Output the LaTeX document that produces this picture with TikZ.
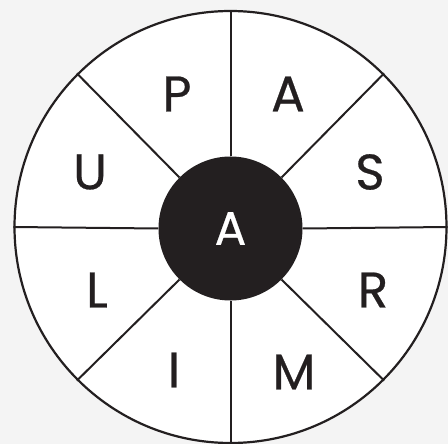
\documentclass[tikz,border=0pt]{standalone}
\usepackage{fontspec}
\setmainfont{Poppins}
\newfontfamily\letterfont{Poppins}[FakeBold=0.5]
\usepackage{tikz}
\usetikzlibrary{positioning}

\definecolor{ink}{HTML}{231F20}
\definecolor{paper}{HTML}{F4F4F4}

\begin{document}
\begin{tikzpicture}[x=1pt,y=-1pt]
\useasboundingbox[fill=paper] (0,0) rectangle (448,444);
\node[draw=ink,line width=2.2pt,circle,fill=white,minimum size=432pt,inner sep=0pt] (rim) at (230.5,227) {};
\node[circle,fill=ink,minimum size=144pt,inner sep=0pt] (hub) at (230.5,228.5) {};
% spokes
\draw[ink,line width=2pt] (hub.90) -- (rim.90);
\draw[ink,line width=2pt] (hub.45) -- (rim.45);
\draw[ink,line width=2pt] (hub.0) -- (rim.0);
\draw[ink,line width=2pt] (hub.-45) -- (rim.-45);
\draw[ink,line width=2pt] (hub.-90) -- (rim.-90);
\draw[ink,line width=2pt] (hub.-135) -- (rim.-135);
\draw[ink,line width=2pt] (hub.180) -- (rim.180);
\draw[ink,line width=2pt] (hub.135) -- (rim.135);
% letters
\node[text=white,font=\letterfont\fontsize{47}{47}\selectfont] (mid) at (hub) {A};
\node[text=ink,font=\letterfont\fontsize{50}{50}\selectfont] (p) at (177,94) {P};
\node[text=ink,font=\letterfont\fontsize{50}{50}\selectfont] (a) at (288,94) {A};
\node[text=ink,font=\letterfont\fontsize{50}{50}\selectfont] (s) at (370,172) {S};
\node[text=ink,font=\letterfont\fontsize{50}{50}\selectfont] (r) at (373,290) {R};
\node[text=ink,font=\letterfont\fontsize{50}{50}\selectfont] (m) at (294,372) {M};
\node[text=ink,font=\letterfont\fontsize{50}{50}\selectfont] (i) at (174,370) {I};
\node[text=ink,font=\letterfont\fontsize{50}{50}\selectfont] (l) at (97,290) {L};
\node[text=ink,font=\letterfont\fontsize{50}{50}\selectfont] (u) at (90,172) {U};
\end{tikzpicture}
\end{document}
